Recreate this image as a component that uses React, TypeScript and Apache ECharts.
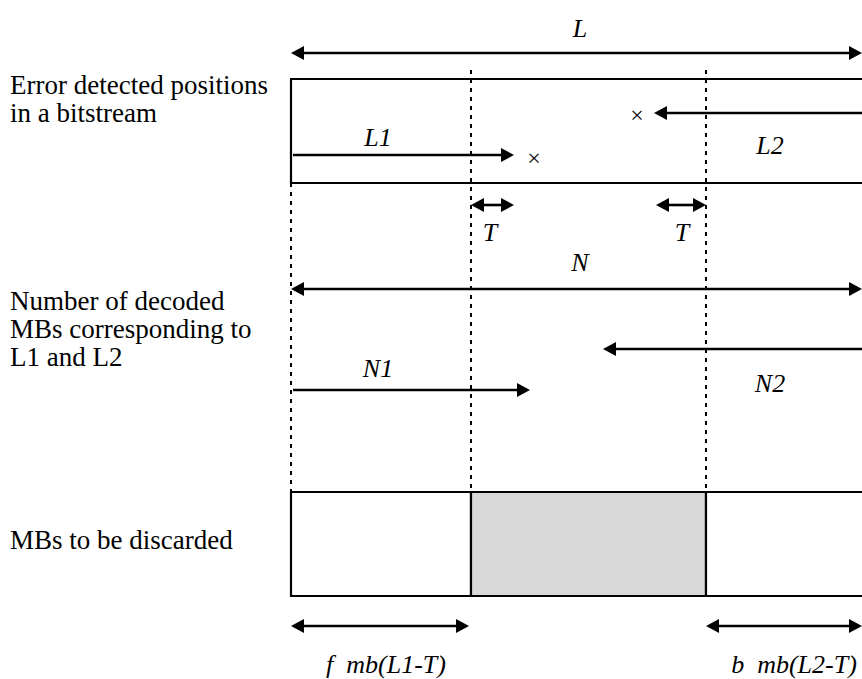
import React, { useEffect, useRef } from "react";
import * as echarts from "echarts";

// Diagram coordinates (x: 0..862, y: 0..679, y grows downward)
const boundaryX = [291, 471, 706];
const dashedFrom = [183, 70, 70];
const dashedTo = [492, 492, 492];

// boxes: [x1, x2, y1, y2, shaded(0/1)]
const boxes = [
  [291, 880, 79, 183, 0],
  [291, 471, 492, 596, 0],
  [471, 706, 492, 596, 1],
  [706, 880, 492, 596, 0],
];

// arrows: [xFrom, xTo, y, headAtFrom, headAtTo]
const arrows = [
  [291, 862, 53, 1, 1], // L
  [293, 514, 155, 0, 1], // L1
  [868, 654, 113, 0, 1], // L2
  [471, 514, 205, 1, 1], // T
  [656, 706, 205, 1, 1], // T
  [291, 862, 289, 1, 1], // N
  [868, 603, 349, 0, 1], // N2
  [293, 530, 390, 0, 1], // N1
  [291, 469, 626, 1, 1], // f mb(L1-T)
  [706, 862, 626, 1, 1], // b mb(L2-T)
];

// italic symbol labels
const symbolTexts = ["L", "L1", "L2", "T", "T", "N", "N1", "N2", "f  mb(L1-T)", "b  mb(L2-T)"];
const symbolX = [580, 378, 770, 490, 682, 580, 378, 770, 386, 794];
const symbolY = [28, 137, 145, 232, 232, 262, 368, 383, 664, 664];

// error markers
const crossX = [534, 637];
const crossY = [158, 115];

// row captions (left aligned)
const captionTexts = [
  "Error detected positions",
  "in a bitstream",
  "Number of decoded",
  "MBs corresponding to",
  "L1 and L2",
  "MBs to be discarded",
];
const captionX = [10, 10, 10, 10, 10, 10];
const captionY = [85, 113, 301, 329, 357, 540];

export default function App() {
  const ref = useRef<HTMLDivElement>(null);
  useEffect(() => {
    if (!ref.current) return;
    const chart = echarts.init(ref.current, null, { renderer: "svg" });
    const HL = 13;
    const HW = 7;
    chart.setOption({
      animation: false,
      grid: { left: 0, right: 0, top: 0, bottom: 0 },
      xAxis: { type: "value", min: 0, max: 862, show: false },
      yAxis: { type: "value", min: 0, max: 679, inverse: true, show: false },
      graphic: [
        ...captionTexts.map((t, i) => ({
          type: "text",
          x: captionX[i],
          y: captionY[i],
          style: {
            text: t,
            fontFamily: "serif",
            fontSize: 27,
            fill: "#000",
            textVerticalAlign: "middle",
          },
        })),
      ],
      series: [
        {
          type: "custom",
          name: "boxes",
          clip: false,
          data: boxes,
          encode: { x: [0, 1], y: [2, 3] },
          renderItem: (params: any, api: any) => {
            const a = api.coord([api.value(0), api.value(2)]);
            const b = api.coord([api.value(1), api.value(3)]);
            return {
              type: "rect",
              shape: { x: a[0], y: a[1], width: b[0] - a[0], height: b[1] - a[1] },
              style: {
                fill: api.value(4) ? "#d9d9d9" : "#ffffff",
                stroke: "#000000",
                lineWidth: 2.2,
              },
            };
          },
        },
        {
          type: "custom",
          name: "boundaries",
          clip: false,
          data: boundaryX.map((x, i) => [x, dashedFrom[i], dashedTo[i]]),
          encode: { x: 0, y: [1, 2] },
          renderItem: (params: any, api: any) => {
            const a = api.coord([api.value(0), api.value(1)]);
            const b = api.coord([api.value(0), api.value(2)]);
            return {
              type: "line",
              shape: { x1: a[0], y1: a[1], x2: b[0], y2: b[1] },
              style: { stroke: "#000000", lineWidth: 2, lineDash: [4, 5] },
            };
          },
        },
        {
          type: "custom",
          name: "arrows",
          clip: false,
          data: arrows,
          encode: { x: [0, 1], y: 2 },
          renderItem: (params: any, api: any) => {
            const p1 = api.coord([api.value(0), api.value(2)]);
            const p2 = api.coord([api.value(1), api.value(2)]);
            const dir = p2[0] >= p1[0] ? 1 : -1;
            const h1 = api.value(3);
            const h2 = api.value(4);
            const y = Math.round(p1[1]);
            const children: any[] = [];
            const xs = h1 ? p1[0] + dir * HL : p1[0];
            const xe = h2 ? p2[0] - dir * HL : p2[0];
            children.push({
              type: "line",
              shape: { x1: xs, y1: y, x2: xe, y2: y },
              style: { stroke: "#000000", lineWidth: 2.6 },
            });
            if (h1) {
              children.push({
                type: "polygon",
                shape: { points: [[p1[0], y], [p1[0] + dir * HL, y - HW], [p1[0] + dir * HL, y + HW]] },
                style: { fill: "#000000" },
              });
            }
            if (h2) {
              children.push({
                type: "polygon",
                shape: { points: [[p2[0], y], [p2[0] - dir * HL, y - HW], [p2[0] - dir * HL, y + HW]] },
                style: { fill: "#000000" },
              });
            }
            return { type: "group", children };
          },
        },
        {
          type: "custom",
          name: "symbols",
          clip: false,
          data: symbolX.map((x, i) => [x, symbolY[i], i]),
          encode: { x: 0, y: 1 },
          renderItem: (params: any, api: any) => {
            const p = api.coord([api.value(0), api.value(1)]);
            return {
              type: "text",
              x: p[0],
              y: p[1],
              style: {
                text: symbolTexts[api.value(2)],
                fontFamily: "serif",
                fontStyle: "italic",
                fontSize: 26,
                fill: "#000",
                textAlign: "center",
                textVerticalAlign: "middle",
              },
            };
          },
        },
        {
          type: "custom",
          name: "crosses",
          clip: false,
          data: crossX.map((x, i) => [x, crossY[i]]),
          encode: { x: 0, y: 1 },
          renderItem: (params: any, api: any) => {
            const p = api.coord([api.value(0), api.value(1)]);
            return {
              type: "text",
              x: p[0],
              y: p[1],
              style: {
                text: "×",
                fontFamily: "serif",
                fontSize: 24,
                fill: "#000",
                textAlign: "center",
                textVerticalAlign: "middle",
              },
            };
          },
        },
      ],
    });
    return () => chart.dispose();
  }, []);
  return (
    <div
      ref={ref}
      style={{ position: "absolute", left: 0, top: 0, width: 862, height: 679, background: "#fff" }}
    />
  );
}
